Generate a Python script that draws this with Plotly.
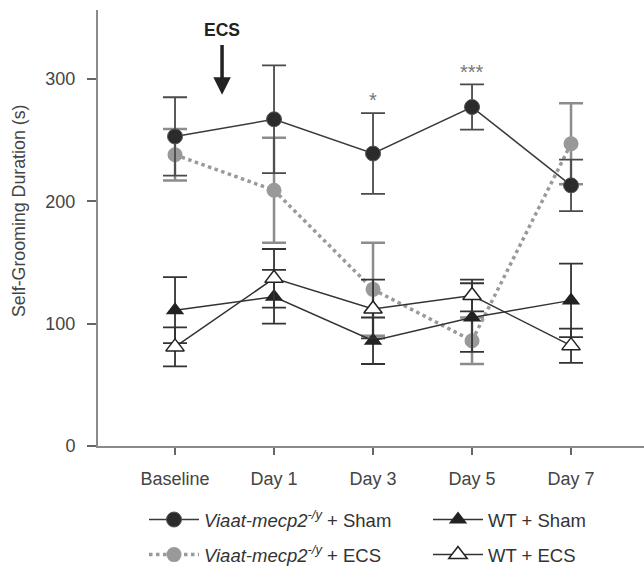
import plotly.graph_objects as go

categories = ["Baseline", "Day 1", "Day 3", "Day 5", "Day 7"]
viaat_sham = [253, 267, 239, 277, 213]
viaat_sham_err = [32, 44, 33, 18.5, 21]
viaat_ecs = [238, 209, 128, 86, 247]
viaat_ecs_err = [21, 43, 38, 19, 33]
wt_sham = [111, 122, 86, 105, 119]
wt_sham_err = [27, 22, 19, 28, 30]
wt_ecs = [81, 137, 112, 123, 82]
wt_ecs_err = [16, 24, 24, 13, 14]
y_ticks = [0, 100, 200, 300]

xs = list(range(len(categories)))
FONT = "Liberation Sans, Arial, sans-serif"

fig = go.Figure()

fig.add_trace(go.Scatter(
    x=xs, y=viaat_ecs, mode="lines+markers",
    name="<i>Viaat-mecp2<sup>-/y</sup></i> + ECS",
    line=dict(color="#9a9a9a", width=3.5, dash="dot"),
    marker=dict(symbol="circle", size=15, color="#999999", line=dict(width=0)),
    error_y=dict(type="data", array=viaat_ecs_err, color="#8c8c8c", thickness=2.5, width=12),
    legend="legend", legendrank=2, legendgroup="b",
))
fig.add_trace(go.Scatter(
    x=xs, y=wt_sham, mode="lines+markers", name="WT + Sham",
    line=dict(color="#333333", width=1.5),
    marker=dict(symbol="triangle-up", size=16, color="#222222", line=dict(width=0)),
    error_y=dict(type="data", array=wt_sham_err, color="#333333", thickness=1.8, width=12),
    legend="legend2", legendrank=1, legendgroup="c",
))
fig.add_trace(go.Scatter(
    x=xs, y=wt_ecs, mode="lines+markers", name="WT + ECS",
    line=dict(color="#333333", width=1.5),
    marker=dict(symbol="triangle-up", size=16, color="white", line=dict(width=1.5, color="#222222")),
    error_y=dict(type="data", array=wt_ecs_err, color="#333333", thickness=1.8, width=12),
    legend="legend2", legendrank=2, legendgroup="d",
))
fig.add_trace(go.Scatter(
    x=xs, y=viaat_sham, mode="lines+markers",
    name="<i>Viaat-mecp2<sup>-/y</sup></i> + Sham",
    line=dict(color="#3a3a3a", width=1.5),
    marker=dict(symbol="circle", size=15, color="#2b2b2b", line=dict(width=1, color="#555555")),
    error_y=dict(type="data", array=viaat_sham_err, color="#4a4a4a", thickness=1.8, width=12),
    legend="legend", legendrank=1, legendgroup="a",
))

fig.add_annotation(x=0.475, y=340, text="<b>ECS</b>", showarrow=False,
                   font=dict(size=17.5, color="#222222", family=FONT))
fig.add_annotation(x=0.475, y=287, ax=0.475, ay=329, xref="x", yref="y", axref="x", ayref="y",
                   text="", showarrow=True, arrowhead=2, arrowsize=1, arrowwidth=3.5, arrowcolor="#222222")
fig.add_annotation(x=2, y=283, text="*", showarrow=False, font=dict(size=20, color="#777777", family=FONT))
fig.add_annotation(x=3, y=306, text="***", showarrow=False, font=dict(size=20, color="#777777", family=FONT))
fig.add_annotation(x=(19 - 98) / 546, y=(446 - 211) / 436, xref="paper", yref="paper",
                   xanchor="center", yanchor="middle",
                   text="Self-Grooming Duration (s)", textangle=-90, showarrow=False,
                   font=dict(size=17.8, color="#444444", family=FONT))

leg_common = dict(xanchor="left", yanchor="top", orientation="v", xref="container", yref="container",
                  font=dict(size=18.5, color="#333333", family=FONT), tracegroupgap=8,
                  bgcolor="rgba(0,0,0,0)", itemwidth=50)

fig.update_layout(
    width=644, height=567,
    margin=dict(l=98, r=0, t=10, b=121, autoexpand=False),
    plot_bgcolor="white", paper_bgcolor="white",
    font=dict(family=FONT, color="#444444", size=17),
    showlegend=True,
    legend=dict(x=144 / 644, y=(567 - 501) / 567, **leg_common),
    legend2=dict(x=428 / 644, y=(567 - 501) / 567, **leg_common),
)
fig.update_xaxes(
    range=[-0.778, 4.737], tickvals=xs, ticktext=categories,
    showline=True, linecolor="#8a8a8a", linewidth=2, showgrid=False, zeroline=False,
    ticks="outside", ticklen=7, tickwidth=1.5, tickcolor="#666666",
    tickfont=dict(size=18, color="#444444"), ticklabelstandoff=8,
)
fig.update_yaxes(
    range=[0, 356.3], tickvals=y_ticks,
    showline=True, linecolor="#8a8a8a", linewidth=2, showgrid=False, zeroline=False,
    ticks="outside", ticklen=9, tickwidth=1.5, tickcolor="#666666",
    tickfont=dict(size=18, color="#444444"), ticklabelstandoff=8,
)

fig.write_html("out.html")
